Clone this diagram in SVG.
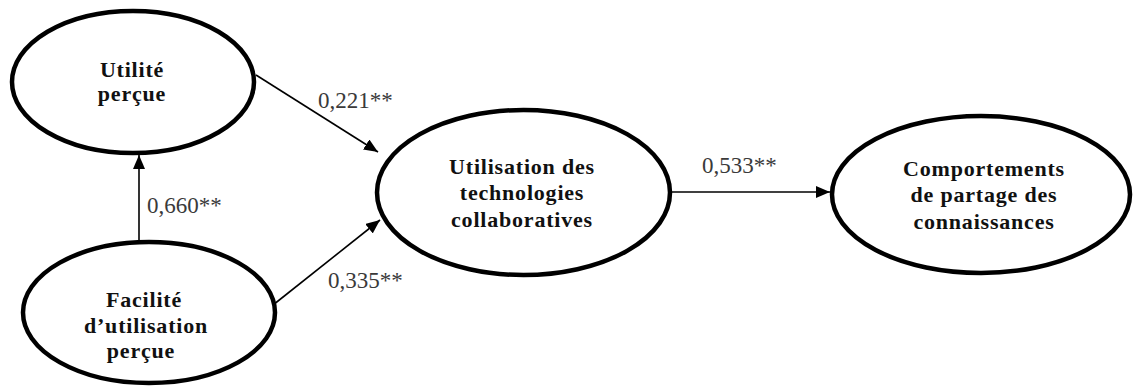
<svg xmlns="http://www.w3.org/2000/svg" width="1133" height="391" viewBox="0 0 1133 391">
<defs>
<marker id="arr" markerUnits="userSpaceOnUse" markerWidth="14" markerHeight="12" viewBox="0 0 14 12" refX="14" refY="6" orient="auto">
<path d="M0,0 L14,6 L0,12 Z" fill="#000"/>
</marker>
<style>
.node ellipse{fill:#fff;stroke:#000;stroke-width:4.5}
.node text{font-family:"Liberation Serif","Times New Roman",serif;font-weight:bold;font-size:22px;letter-spacing:0.8px;fill:#111;text-anchor:middle}
.edge{stroke:#000;stroke-width:1.6;fill:none;marker-end:url(#arr)}
.lbl{font-family:"Liberation Serif","Times New Roman",serif;font-size:23px;fill:#3a3a3a}
</style>
</defs>
<rect width="1133" height="391" fill="#fff"/>
<g id="connectors">
<line class="edge" x1="256" y1="75" x2="378" y2="152"/>
<line class="edge" x1="273" y1="305" x2="380" y2="220"/>
<line class="edge" x1="139" y1="240" x2="139" y2="155"/>
<line class="edge" x1="672" y1="192" x2="830" y2="192"/>
<text class="lbl" x="318" y="108">0,221**</text>
<text class="lbl" x="147" y="213">0,660**</text>
<text class="lbl" x="328" y="288">0,335**</text>
<text class="lbl" x="702" y="173">0,533**</text>
</g>
<g id="utilite" class="node">
<ellipse cx="133" cy="82" rx="121" ry="71"/>
<text x="132" y="77">Utilité</text>
<text x="132" y="101">perçue</text>
</g>
<g id="facilite" class="node">
<ellipse cx="149" cy="312.5" rx="126" ry="70.5"/>
<text x="144" y="307">Facilité</text>
<text x="146" y="333">d’utilisation</text>
<text x="141" y="358">perçue</text>
</g>
<g id="utilisation" class="node">
<ellipse cx="523.5" cy="192.5" rx="146.5" ry="82.5"/>
<text x="522" y="174">Utilisation des</text>
<text x="522" y="200">technologies</text>
<text x="522" y="227">collaboratives</text>
</g>
<g id="comportements" class="node">
<ellipse cx="981" cy="194.5" rx="149" ry="78.5"/>
<text x="984" y="176">Comportements</text>
<text x="984" y="202">de partage des</text>
<text x="984" y="229">connaissances</text>
</g>
</svg>
